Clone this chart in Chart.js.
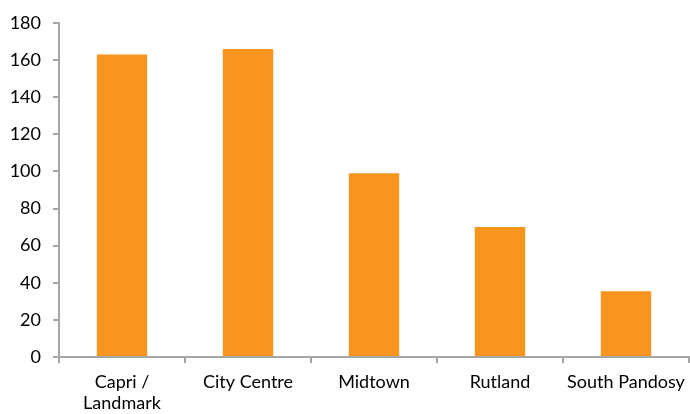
<!DOCTYPE html>
<html>
<head>
<meta charset="utf-8">
<script src="https://cdn.jsdelivr.net/npm/chart.js@4/dist/chart.umd.min.js"></script>
<style>
  html, body { margin: 0; padding: 0; background: #fff; }
  #wrap { width: 690px; height: 414px; position: relative; }
</style>
</head>
<body>
<div id="wrap"><canvas id="graph"></canvas></div>
<script>
var categories = [['Capri /', 'Landmark'], 'City Centre', 'Midtown', 'Rutland', 'South Pandosy'];
var values = [163, 166, 99, 70, 35.5];
var yTicks = [0, 20, 40, 60, 80, 100, 120, 140, 160, 180];

var axisColor = '#a6a6a6';
var font = { family: 'Lato, "Open Sans", sans-serif', size: 18, lineHeight: 1.2 };

var ctx = document.getElementById('graph').getContext('2d');

var chart = new Chart(ctx, {
  type: 'bar',
  data: {
    labels: categories,
    datasets: [{
      data: values,
      backgroundColor: '#f7951f',
      borderWidth: 0,
      barPercentage: 0.8,
      categoryPercentage: 0.5
    }]
  },
  options: {
    responsive: true,
    maintainAspectRatio: false,
    animation: false,
    layout: { padding: { top: 23, right: 1, left: 0, bottom: 0 } },
    plugins: {
      legend: { display: false },
      tooltip: { enabled: false }
    },
    scales: {
      x: {
        grid: {
          offset: true,
          drawOnChartArea: false,
          drawTicks: true,
          tickLength: 6,
          color: axisColor,
          lineWidth: 2
        },
        border: { display: true, color: axisColor, width: 2 },
        ticks: {
          color: '#000',
          font: font,
          padding: 8,
          maxRotation: 0,
          autoSkip: false
        },
        afterFit: function(scale) {
          scale.height = 57;
          scale.paddingLeft = 0;
          scale.paddingRight = 0;
        }
      },
      y: {
        min: 0,
        max: 180,
        afterBuildTicks: function(scale) {
          scale.ticks = yTicks.map(function(v) { return { value: v }; });
        },
        grid: {
          drawOnChartArea: false,
          drawTicks: true,
          tickLength: 6,
          color: axisColor,
          lineWidth: 2
        },
        border: { display: true, color: axisColor, width: 2 },
        ticks: {
          color: '#000',
          font: font,
          padding: 12
        },
        afterFit: function(scale) {
          scale.width = 59;
          scale.paddingTop = 0;
          scale.paddingBottom = 0;
        }
      }
    }
  }
});
</script>
</body>
</html>
